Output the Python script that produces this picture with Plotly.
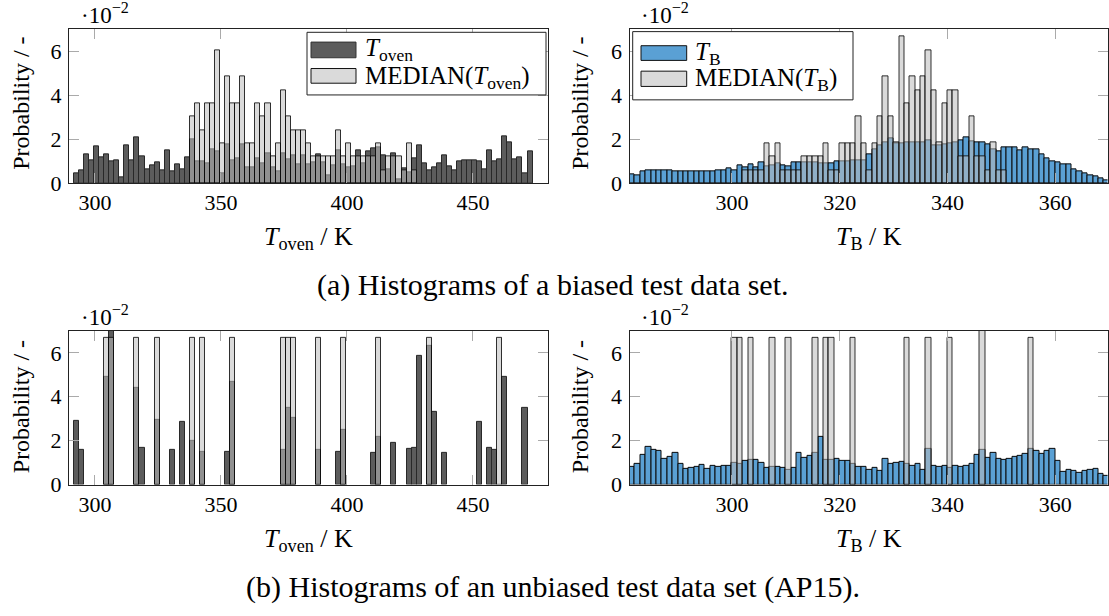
import plotly.graph_objects as go

# ---------------- data (probabilities in units of 1e-2) ----------------
# T_oven histograms: 91 bins of 2 K starting at 291.67 K
oven_bin_start = 291.67
oven_bin_width = 2.0
oven_biased = [0.45, 0.6, 1.3, 1.05, 1.65, 1.15, 1.3, 1.0, 1.05, 0.27, 1.72, 1.05, 2.07, 1.2, 0.62, 0.8,
               0.95, 0.6, 1.47, 0.55, 0.85, 0.62, 1.19,
               1.99, 1.0, 1.0, 0.9, 1.55, 1.44, 0.45, 1.78, 1.03, 1.14, 1.74, 0.73, 0.73, 1.13, 0.9, 1.34,
               0.7, 0.55, 1.37, 1.1, 1.25, 0.85, 1.25, 0.85, 0.92, 1.32, 0.92, 0.33, 0.8, 1.49, 0.85, 0.7,
               0.74, 1.47, 0.88, 1.44, 1.6, 1.62, 1.25, 0.62, 1.34, 0.18, 0.68, 0.47, 1.14, 1.7,
               0.9, 0.6, 0.73, 0.88, 1.25, 0.77, 0.6, 1.0, 1.02, 1.04, 1.04, 1.01, 0.62, 1.47, 1.0, 1.07,
               2.14, 1.86, 1.1, 1.17, 0.42, 1.44]
oven_biased_median = [0] * 23 + [
               3.03, 3.64, 2.42, 3.64, 3.64, 6.06, 1.82, 4.85, 3.64, 3.64, 4.85, 1.82, 1.82, 3.64, 3.03,
               3.64, 1.21, 1.82, 4.24, 3.03, 2.42, 2.42, 2.42, 1.82, 1.21, 1.21, 1.21, 1.21, 1.21, 2.42,
               1.21, 1.82, 1.21, 1.21, 1.21, 1.21, 1.21, 1.82, 0.6, 1.21, 1.21, 1.21, 0.6, 1.82, 0.6, 0] + [0] * 22

oven_unbiased = [0] * 91
for i, v in {0: 2.92, 1: 1.6, 6: 4.89, 7: 7.4, 12: 4.4, 13: 1.69, 16: 2.96, 19: 1.6, 21: 2.86, 23: 2.0,
             25: 1.51, 30: 1.51, 31: 4.67, 41: 1.6, 42: 3.51, 43: 3.04, 48: 1.56, 52: 1.51, 53: 2.49,
             59: 1.45, 60: 2.18, 63: 1.9, 66: 1.64, 67: 1.67, 68: 5.85, 70: 6.33, 71: 3.33, 73: 1.45,
             80: 2.84, 82: 1.66, 83: 1.56, 85: 4.89, 89: 3.51}.items():
    oven_unbiased[i] = v
oven_unbiased_median = [0] * 91
for i in [6, 7, 12, 16, 23, 25, 31, 41, 42, 43, 48, 53, 60, 70, 84]:
    oven_unbiased_median[i] = 6.67

# T_B histograms: 89 bins of 1 K starting at 281 K
tb_bin_start = 281.0
tb_bin_width = 1.0
tb_biased = [0.4, 0.37, 0.55, 0.6, 0.58, 0.58, 0.57, 0.57, 0.54, 0.54, 0.54, 0.54, 0.54, 0.53, 0.52, 0.54,
             0.58, 0.58, 0.65, 0.6, 0.8, 0.73, 0.85, 0.73, 0.92,
             0.74, 0.82, 0.88, 0.82, 0.77, 0.94, 0.94, 0.92, 0.92, 0.92, 0.89, 0.89, 0.9, 1.0, 0.97, 1.0,
             1.03, 1.03, 1.03, 1.3, 1.52, 1.7, 1.87, 2.02, 1.81, 1.81, 1.87, 1.87, 1.87, 1.87, 1.95, 1.72,
             1.7, 1.77, 1.81, 1.84, 1.96, 2.07, 1.92, 1.87, 1.87, 1.74, 1.55, 1.44, 1.63,
             1.63, 1.63, 1.47, 1.63, 1.55, 1.52, 1.3, 1.12, 1.0, 0.92, 0.85, 0.83, 0.62, 0.52, 0.42, 0.37,
             0.3, 0.2, 0.12]
tb_biased_median = [0] * 21 + [
             0.6, 0.6, 0.6, 0.6, 1.81, 1.22, 1.81, 0.6, 0.6, 0.6, 0.6, 1.22, 1.22, 1.22, 1.22, 1.81, 0.6,
             0.6, 1.81, 1.81, 1.81, 3.03, 1.81, 0.6, 1.81, 3.03, 4.84, 3.03, 1.84, 6.67, 3.64, 4.84, 4.24,
             4.84, 6.05, 4.24, 1.84, 3.64, 4.24, 4.24, 1.22, 1.22, 3.03, 1.22, 1.22, 0.6, 1.84, 0.6, 0.6] + [0] * 19

tb_unbiased = [0.81, 0.92, 1.33, 1.73, 1.6, 1.53, 1.19, 1.26, 1.44, 0.92, 0.71, 0.74, 0.81, 0.9, 0.7, 0.84,
               0.79, 0.87, 0.86, 1.0, 0.96, 1.1, 1.14, 1.14, 0.99, 0.74, 0.81, 0.81, 0.77, 0.65, 0.77, 1.44,
               1.23, 1.29, 1.45, 2.16, 1.14, 1.14, 1.17, 1.07, 1.08, 0.92, 0.81, 0.81, 0.68, 0.77, 0.64, 1.19,
               0.96, 0.99, 1.04, 0.96, 0.84, 0.92, 0.65, 1.63, 0.87, 0.8, 0.83, 0.76, 0.87, 0.8, 0.83, 0.92,
               1.33, 1.56, 1.23, 1.44, 1.19, 1.14, 1.17, 1.24, 1.3, 1.41, 1.63, 1.54, 1.41, 1.54, 1.63, 1.07,
               0.59, 0.68, 0.64, 0.55, 0.62, 0.65, 0.73, 0.47, 0.39]
tb_unbiased_median = [0] * 89
for i in [19, 20, 22, 26, 29, 34, 36, 37, 41, 51, 55, 59, 74]:
    tb_unbiased_median[i] = 6.67
tb_unbiased_median[65] = 13.33

oven_ticks = [300, 350, 400, 450]
tb_ticks = [300, 320, 340, 360]
y_ticks = [0, 2, 4, 6]

# ---------------- styling ----------------
W, H = 1109, 616
FONT = "Liberation Serif"
DARK = "rgb(92,92,92)"
LIGHT = "rgba(187,187,187,0.55)"
LIGHT_SOLID = "rgb(218,218,218)"
BLUE = "rgb(90,160,212)"


def px(x):
    return x / W


def py(y):
    return 1 - y / H


def centers(start, width, n):
    return [start + width * (i + 0.5) for i in range(n)]


def nz(vals):
    return [v if v > 0 else None for v in vals]


fig = go.Figure()


def add_bars(vals, start, width, color, line, ax):
    fig.add_trace(go.Bar(
        x=centers(start, width, len(vals)), y=nz(vals), width=width,
        xaxis="x" + ax, yaxis="y" + ax,
        marker=dict(color=color, line=dict(color=line, width=1)),
        showlegend=False, hoverinfo="skip"))


add_bars(oven_biased, oven_bin_start, oven_bin_width, DARK, "rgb(40,40,40)", "")
add_bars(oven_biased_median, oven_bin_start, oven_bin_width, LIGHT, "rgba(0,0,0,0.8)", "")
add_bars(tb_biased, tb_bin_start, tb_bin_width, BLUE, "rgb(10,10,10)", "2")
add_bars(tb_biased_median, tb_bin_start, tb_bin_width, LIGHT, "rgba(0,0,0,0.8)", "2")
add_bars(oven_unbiased, oven_bin_start, oven_bin_width, DARK, "rgb(40,40,40)", "3")
add_bars(oven_unbiased_median, oven_bin_start, oven_bin_width, LIGHT, "rgba(0,0,0,0.8)", "3")
add_bars(tb_unbiased, tb_bin_start, tb_bin_width, BLUE, "rgb(10,10,10)", "4")
add_bars(tb_unbiased_median, tb_bin_start, tb_bin_width, LIGHT, "rgba(0,0,0,0.8)", "4")

axis_common = dict(ticks="inside", ticklen=10, tickwidth=1.3, tickcolor="#aaaaaa",
                   showline=True, linecolor="#222222", linewidth=1, mirror="ticks",
                   showgrid=False, zeroline=False,
                   tickfont=dict(family=FONT, size=22, color="black"))

left_dom = [px(69), px(548)]
right_dom = [px(629.5), px(1107.5)]
top_dom = [py(187), py(30)]
bot_dom = [py(495), py(338)]

layout_axes = {}
for ax, xd, yd, rng, tv in [("", left_dom, top_dom, [289.7, 479.8], oven_ticks),
                            ("2", right_dom, top_dom, [281.0, 369.68], tb_ticks),
                            ("3", left_dom, bot_dom, [289.7, 479.8], oven_ticks),
                            ("4", right_dom, bot_dom, [281.0, 369.68], tb_ticks)]:
    layout_axes["xaxis" + ax] = dict(domain=xd, range=rng, tickvals=tv, anchor="y" + ax,
                                     ticklabelstandoff=0, **axis_common)
    layout_axes["yaxis" + ax] = dict(domain=yd, range=[0, 7], tickvals=y_ticks, anchor="x" + ax,
                                     ticklabelstandoff=2, **axis_common)

annotations = []


def txt(text, x, y, size=21, xanchor="center", yanchor="middle", angle=0):
    annotations.append(dict(text=text, x=px(x), y=py(y), xref="paper", yref="paper",
                            xanchor=xanchor, yanchor=yanchor, showarrow=False, textangle=angle,
                            font=dict(family=FONT, size=size, color="black")))


# scale labels
for (x, y) in [(79, 14), (639, 14), (79, 322), (639, 322)]:
    txt("·10<sup>−2</sup>", x, y, size=23, xanchor="left")
# y titles
for (x, y) in [(21, 106), (580, 106), (21, 416), (580, 416)]:
    txt("Probability / -", x, y, size=24, angle=-90)
# x titles
txt("<i>T</i><sub>oven</sub> / K", 308.5, 243, size=26)
txt("<i>T</i><sub>B</sub> / K", 868.5, 243, size=26)
txt("<i>T</i><sub>oven</sub> / K", 308.5, 552, size=26)
txt("<i>T</i><sub>B</sub> / K", 868.5, 552, size=26)
# captions
txt("(a) Histograms of a biased test data set.", 553, 291, size=30)
txt("(b) Histograms of an unbiased test data set (AP15).", 553, 600, size=30)

# legends
shapes = []


def rect(x0, y0, x1, y1, fill, line):
    shapes.append(dict(type="rect", xref="paper", yref="paper", x0=px(x0), x1=px(x1), y0=py(y1), y1=py(y0),
                       fillcolor=fill, line=dict(color=line, width=1), layer="above"))


rect(307, 33, 546, 97, "white", "#222222")
rect(311, 43, 356, 59, DARK, "#333333")
rect(311, 70, 356, 85, LIGHT_SOLID, "#111111")
txt("<i>T</i><sub>oven</sub>", 363, 51, size=25, xanchor="left")
txt("MEDIAN(<i>T</i><sub>oven</sub>)", 363, 79, size=25, xanchor="left")

rect(632.7, 32.3, 853, 102, "white", "#222222")
rect(641, 46.7, 686.7, 61.7, BLUE, "#111111")
rect(641, 72.7, 686.7, 88.3, LIGHT_SOLID, "#111111")
txt("<i>T</i><sub>B</sub>", 693, 55, size=25, xanchor="left")
txt("MEDIAN(<i>T</i><sub>B</sub>)", 693, 81, size=25, xanchor="left")

fig.update_layout(width=W, height=H, margin=dict(l=0, r=0, t=0, b=0),
                  paper_bgcolor="white", plot_bgcolor="white", barmode="overlay", bargap=0,
                  showlegend=False, annotations=annotations, shapes=shapes, **layout_axes)

fig.write_html("out.html", config={"displayModeBar": False},
               post_script="document.body.style.margin='0px';")
